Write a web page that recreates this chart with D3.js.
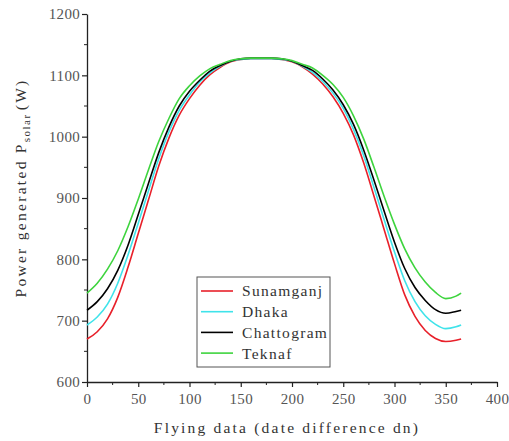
<!DOCTYPE html>
<html>
<head>
<meta charset="utf-8">
<script src="https://cdn.jsdelivr.net/npm/d3@7"></script>
<style>
  html, body { margin: 0; padding: 0; background: #fff; }
  svg text { font-family: "Liberation Serif", "DejaVu Serif", serif; }
</style>
</head>
<body>
<svg id="chart" width="509" height="441"></svg>
<script>
// ---- data ----
const days = [0,10,20,30,40,50,60,70,80,90,100,110,120,130,140,150,160,170,180,190,200,210,220,230,240,250,260,270,280,290,300,310,320,330,340,350,360,365];
const sunamganj = [670,682,703,738,787,842,897,952,998,1035,1062,1084,1101,1113,1122,1126,1127,1127,1127,1126,1122,1114,1102,1086,1065,1038,1003,957,903,848,793,742,707,684,671,666,668,670];
const dhaka     = [693,706,727,761,807,859,912,964,1008,1043,1068,1089,1104,1115,1123,1126,1127,1127,1127,1126,1123,1115,1105,1090,1071,1046,1012,969,917,864,812,765,731,708,694,687,690,693];
const chattogram= [717,731,752,782,823,873,924,974,1016,1050,1074,1092,1107,1116,1123,1127,1128,1128,1128,1127,1123,1116,1108,1094,1076,1052,1020,978,929,878,828,785,754,733,718,712,715,717];
const teknaf    = [745,761,784,814,853,898,946,992,1030,1062,1083,1099,1111,1118,1124,1127,1128,1128,1128,1127,1124,1118,1112,1100,1085,1064,1034,996,950,902,857,817,786,763,746,736,740,745];
const seriesNames = ["Sunamganj","Dhaka","Chattogram","Teknaf"];
const seriesColors = ["#e8202a","#3fe3ea","#000000","#3ed43e"];
const xTicks = [0,50,100,150,200,250,300,350,400];
const yTicks = [600,700,800,900,1000,1100,1200];
const xTitle = "Flying data (date difference dn)";

// ---- layout ----
const SERIF = "'Liberation Serif', 'DejaVu Serif', serif";
const svg = d3.select("#chart");
const x = d3.scaleLinear().domain([0,400]).range([87,497]);
const y = d3.scaleLinear().domain([600,1200]).range([382,14]);

// minor ticks
const xMinor = d3.range(25,400,50);
const yMinor = d3.range(650,1200,100);
svg.append("g").selectAll("line").data(xMinor).join("line")
  .attr("x1", d=>x(d)).attr("x2", d=>x(d)).attr("y1", 382).attr("y2", 385)
  .attr("stroke","#222").attr("stroke-width",1);
svg.append("g").selectAll("line").data(yMinor).join("line")
  .attr("y1", d=>y(d)).attr("y2", d=>y(d)).attr("x1", 87).attr("x2", 84)
  .attr("stroke","#222").attr("stroke-width",1);

const xAxis = svg.append("g").attr("transform","translate(0,382)")
  .call(d3.axisBottom(x).tickValues(xTicks).tickSize(5).tickSizeOuter(0).tickFormat(d3.format("d")));
const yAxis = svg.append("g").attr("transform","translate(87,0)")
  .call(d3.axisLeft(y).tickValues(yTicks).tickSize(5).tickSizeOuter(0).tickFormat(d3.format("d")));
[xAxis,yAxis].forEach(a=>{
  a.attr("font-family", SERIF);
  a.select(".domain").attr("stroke","#222").attr("stroke-width",1.3);
  a.selectAll(".tick line").attr("stroke","#222").attr("stroke-width",1.2);
  a.selectAll(".tick text").attr("fill","#555")
    .style("font-family", SERIF).style("font-size","15px")
    .style("letter-spacing","0.3px");
});
xAxis.selectAll(".tick text").attr("dy","0.9em").attr("y",8);
yAxis.selectAll(".tick text").attr("x",-7);

// lines
const series = [sunamganj, dhaka, chattogram, teknaf];
const line = d3.line().x((d,i)=>x(days[i])).y(d=>y(d)).curve(d3.curveMonotoneX);
series.forEach((s,k)=>{
  svg.append("path").datum(s).attr("d", line)
    .attr("fill","none").attr("stroke", seriesColors[k]).attr("stroke-width",1.6);
});

// axis titles
svg.append("text").attr("x", 287).attr("y", 433).attr("text-anchor","middle")
  .style("font-family", SERIF).style("font-size","15.5px").style("letter-spacing","2.2px")
  .attr("fill","#333").text(xTitle);
const yt = svg.append("text").attr("transform","translate(26,188) rotate(-90)")
  .attr("text-anchor","middle").style("font-family", SERIF).style("font-size","15.5px")
  .style("letter-spacing","2.3px").attr("fill","#333");
yt.append("tspan").text("Power generated P");
yt.append("tspan").attr("dy", 4).style("font-size","11px").style("letter-spacing","1.5px").text("solar");
yt.append("tspan").attr("dy", -4).text("(W)").attr("dx",3);

// legend
const lg = svg.append("g");
lg.append("rect").attr("x",197).attr("y",277).attr("width",133).attr("height",90)
  .attr("fill","#fff").attr("stroke","#555").attr("stroke-width",1);
seriesNames.forEach((n,k)=>{
  const yy = 291 + k*20.7;
  lg.append("line").attr("x1",201).attr("x2",233).attr("y1",yy).attr("y2",yy)
    .attr("stroke",seriesColors[k]).attr("stroke-width",1.6);
  lg.append("text").attr("x",242).attr("y",yy).attr("dy","0.35em")
    .style("font-family", SERIF).style("font-size","15.5px").style("letter-spacing","1.3px")
    .attr("fill","#333").text(n);
});
</script>
</body>
</html>
